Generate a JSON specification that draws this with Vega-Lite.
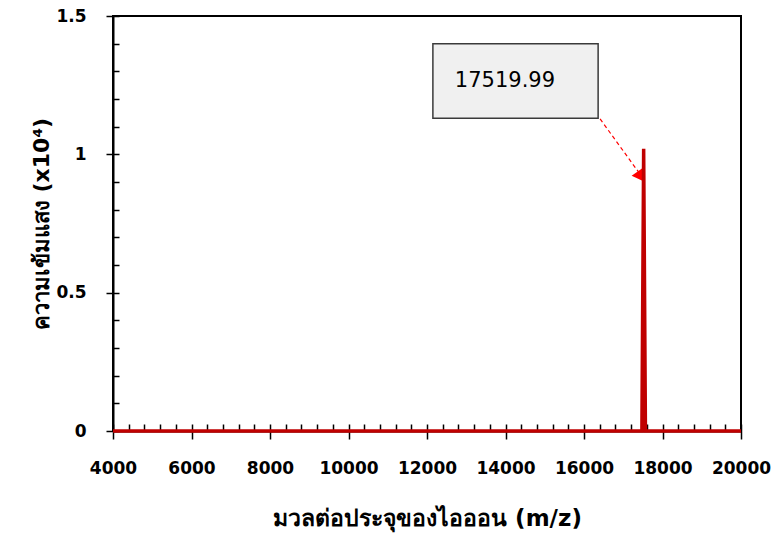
{
  "$schema": "https://vega.github.io/schema/vega-lite/v6.json",
  "width": 628,
  "height": 415,
  "autosize": {"type": "none"},
  "padding": {"left": 113, "top": 16, "right": 34, "bottom": 108},
  "background": "white",
  "config": {
    "view": {"stroke": "black", "strokeWidth": 2},
    "font": "DejaVu Sans",
    "axis": {"domainColor": "black", "tickColor": "black", "labelColor": "black", "titleColor": "black", "labelFont": "DejaVu Sans", "titleFont": "DejaVu Sans", "labelOverlap": false, "labelBound": false, "labelFlush": false}
  },
  "datasets": {
    "spectrum": [
      {"mz": 4000, "intensity": 0},
      {"mz": 17475, "intensity": 0},
      {"mz": 17520, "intensity": 1.02},
      {"mz": 17565, "intensity": 0},
      {"mz": 20000, "intensity": 0}
    ],
    "box": [{"x1": 12150, "x2": 16360, "y1": 1.13, "y2": 1.40}],
    "label": [{"x": 12710, "y": 1.264, "text": "17519.99"}],
    "arrow": [
      {"x": 16410, "y": 1.128, "o": 0},
      {"x": 17420, "y": 0.93, "o": 1}
    ],
    "head": [{"x": 17405, "y": 0.925}]
  },
  "layer": [
    {
      "data": {"name": "box"},
      "mark": {"type": "rect", "fill": "#F0F0F0", "stroke": "#3a3a3a", "strokeWidth": 1.5},
      "encoding": {
        "x": {"field": "x1", "type": "quantitative", "scale": {"domain": [4000, 20000], "nice": false},
          "axis": {
            "values": [4000, 4400, 4800, 5200, 5600, 6000, 6400, 6800, 7200, 7600, 8000, 8400, 8800, 9200, 9600, 10000, 10400, 10800, 11200, 11600, 12000, 12400, 12800, 13200, 13600, 14000, 14400, 14800, 15200, 15600, 16000, 16400, 16800, 17200, 17600, 18000, 18400, 18800, 19200, 19600, 20000],
            "tickCount": 200,
            "labelExpr": "datum.value % 2000 === 0 ? toString(datum.value) : ''",
            "labelOverlap": false,
            "tickSize": {"condition": {"test": "datum.value % 2000 === 0", "value": 8}, "value": 0},
            "tickWidth": 1.5,
            "grid": true, "gridColor": "black", "gridWidth": 1.5, "gridDash": [7, 408], "gridDashOffset": 7, "gridOpacity": 1,
            "domainWidth": 2, "labelFontSize": 17, "labelFontWeight": "bold", "labelPadding": 21,
            "title": "มวลต่อประจุของไอออน (m/z)", "titleFontSize": 23, "titleFontWeight": "bold", "titlePadding": 31}},
        "x2": {"field": "x2"},
        "y": {"field": "y1", "type": "quantitative", "scale": {"domain": [0, 1.5], "nice": false},
          "axis": {
            "values": [0, 0.1, 0.2, 0.3, 0.4, 0.5, 0.6, 0.7, 0.8, 0.9, 1, 1.1, 1.2, 1.3, 1.4, 1.5],
            "tickCount": 200,
            "labelExpr": "(round(datum.value * 10) % 5 === 0) ? toString(datum.value) : ''",
            "labelOverlap": false,
            "tickSize": {"condition": {"test": "round(datum.value * 10) % 5 === 0", "value": 7}, "value": 0},
            "tickWidth": 1.5,
            "grid": true, "gridColor": "black", "gridWidth": 1.5, "gridDash": [6, 3000], "gridOpacity": 1,
            "domainWidth": 2, "labelFontSize": 17, "labelFontWeight": "bold", "labelPadding": 20,
            "title": "ความเข้มแสง (x10⁴)", "titleFontSize": 22, "titleFontWeight": "bold", "titlePadding": 2}},
        "y2": {"field": "y2"}
      }
    },
    {
      "data": {"name": "label"},
      "mark": {"type": "text", "align": "left", "baseline": "middle", "fontSize": 21, "color": "black", "font": "DejaVu Sans"},
      "encoding": {
        "x": {"field": "x", "type": "quantitative"},
        "y": {"field": "y", "type": "quantitative"},
        "text": {"field": "text"}
      }
    },
    {
      "data": {"name": "arrow"},
      "mark": {"type": "line", "color": "#FF0000", "strokeWidth": 1.2, "strokeDash": [4, 3]},
      "encoding": {
        "x": {"field": "x", "type": "quantitative"},
        "y": {"field": "y", "type": "quantitative"},
        "order": {"field": "o"}
      }
    },
    {
      "data": {"name": "head"},
      "mark": {"type": "point", "shape": "triangle", "filled": true, "color": "#FF0000", "opacity": 1, "size": 170, "angle": 145},
      "encoding": {
        "x": {"field": "x", "type": "quantitative"},
        "y": {"field": "y", "type": "quantitative"}
      }
    },
    {
      "data": {"name": "spectrum"},
      "mark": {"type": "line", "color": "#C00000", "strokeWidth": 3.5},
      "encoding": {
        "x": {"field": "mz", "type": "quantitative"},
        "y": {"field": "intensity", "type": "quantitative"}
      }
    }
  ]
}
